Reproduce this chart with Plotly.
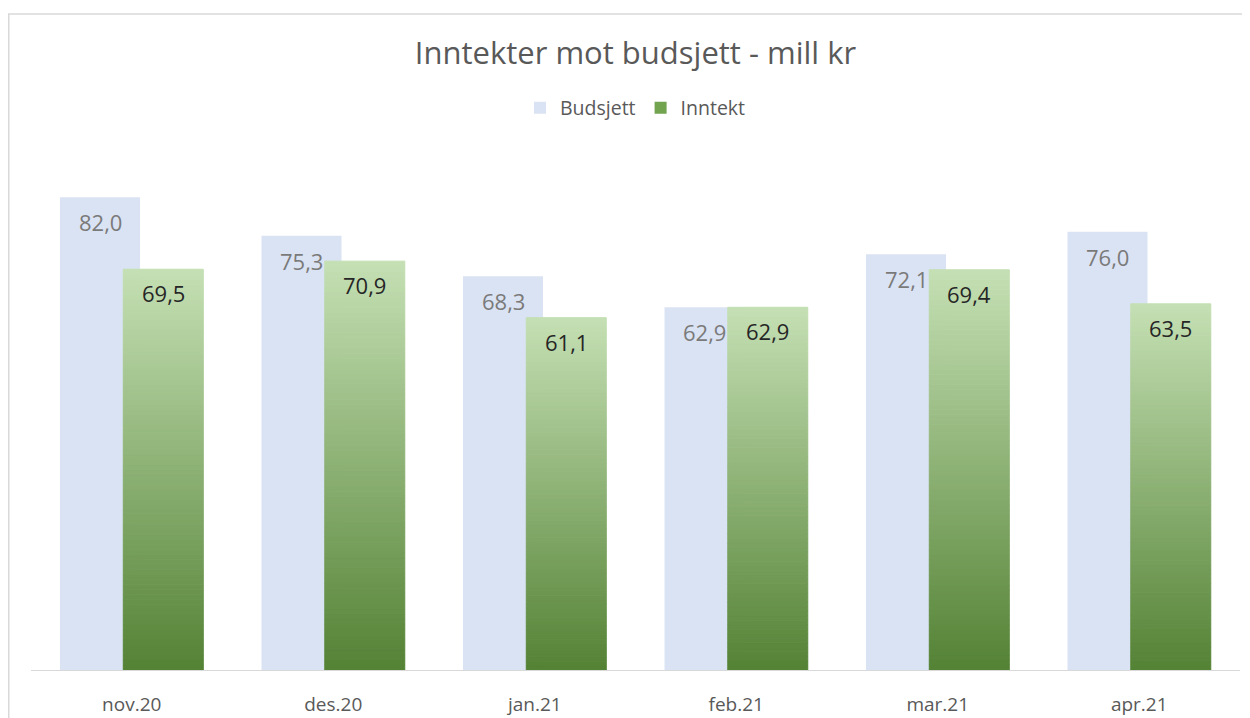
import plotly.graph_objects as go

# ---- data ----
categories = ["nov.20", "des.20", "jan.21", "feb.21", "mar.21", "apr.21"]
budsjett = [82.0, 75.3, 68.3, 62.9, 72.1, 76.0]
inntekt = [69.5, 70.9, 61.1, 62.9, 69.4, 63.5]

# ---- style ----
FONT = "Open Sans"
C_BUD = "#dae3f3"
C_TOP = (197, 224, 180)
C_BOT = (84, 130, 53)
BAR_W = 0.397
OFF_BUD = -0.356
OFF_INN = -0.042
N_SEG = 80


def fmt(v):
    return f"{v:.1f}".replace(".", ",")


def mix(t):
    r = [round(C_BOT[k] + (C_TOP[k] - C_BOT[k]) * t) for k in range(3)]
    return f"rgb({r[0]},{r[1]},{r[2]})"


fig = go.Figure()

fig.add_trace(go.Bar(
    x=categories, y=budsjett, name="Budsjett",
    marker=dict(color=C_BUD, line=dict(width=0)),
    width=BAR_W, offset=OFF_BUD, hoverinfo="skip",
))

# gradient-filled Inntekt bars built from stacked thin slices of each value
seg_x, seg_base, seg_y, seg_c = [], [], [], []
for cat, v in zip(categories, inntekt):
    h = v / N_SEG
    for k in range(N_SEG):
        seg_x.append(cat)
        seg_base.append(k * h)
        seg_y.append(h)
        seg_c.append(mix((k + 0.5) / N_SEG))

fig.add_trace(go.Bar(
    x=seg_x, y=seg_y, base=seg_base, name="Inntekt", showlegend=False,
    marker=dict(color=seg_c, line=dict(width=1, color=seg_c)),
    width=BAR_W, offset=OFF_INN, hoverinfo="skip",
))

# legend entry for Inntekt
fig.add_trace(go.Bar(
    x=[categories[0]], y=[None], name="Inntekt",
    marker=dict(color="#72a450", line=dict(width=0)),
    width=BAR_W, offset=OFF_INN,
))

annotations = []
for i, (b, n) in enumerate(zip(budsjett, inntekt)):
    annotations.append(dict(
        x=i + OFF_BUD + BAR_W / 2, y=b, xref="x", yref="y",
        text=fmt(b), showarrow=False, yanchor="middle", yshift=-25,
        font=dict(family=FONT, size=22, color="#7a7a7a"),
    ))
    annotations.append(dict(
        x=i + OFF_INN + BAR_W / 2, y=n, xref="x", yref="y",
        text=fmt(n), showarrow=False, yanchor="middle", yshift=-24,
        font=dict(family=FONT, size=22, color="#262626"),
    ))

# page body adds an 8px offset; margins compensate so the plot area lands where the reference has it
fig.update_layout(
    width=1250, height=718,
    margin=dict(l=23, r=18, t=143, b=56, pad=0, autoexpand=False),
    paper_bgcolor="white", plot_bgcolor="white",
    barmode="overlay",
    font=dict(family=FONT, color="#595959"),
    title=dict(
        text="Inntekter mot budsjett - mill kr",
        x=0.5, xref="paper", xanchor="center",
        y=1 - 45 / 718, yref="container", yanchor="middle",
        font=dict(family=FONT, size=31, color="#595959"),
    ),
    legend=dict(
        orientation="h", x=0.5, xanchor="center", xref="paper",
        y=(670 - 108) / 519, yanchor="middle",
        font=dict(family=FONT, size=19.5, color="#595959"),
        itemwidth=30, traceorder="normal", bgcolor="rgba(0,0,0,0)",
    ),
    xaxis=dict(
        type="category", categoryorder="array", categoryarray=categories,
        range=[-0.5, len(categories) - 0.5],
        showline=True, linecolor="#d9d9d9", linewidth=1,
        ticks="", showgrid=False, zeroline=False, automargin=False,
        tickfont=dict(family=FONT, size=19, color="#595959"),
        ticklabelstandoff=17,
    ),
    yaxis=dict(
        range=[0, 90], visible=False, showgrid=False, zeroline=False,
        automargin=False,
    ),
    annotations=annotations,
    shapes=[dict(
        type="rect", xref="paper", yref="paper",
        x0=(8.75 - 31) / 1209, x1=1.2, y0=-0.3, y1=(670 - 14) / 519,
        line=dict(color="#d9d9d9", width=1.5), fillcolor="rgba(0,0,0,0)",
        layer="below",
    )],
)

fig.write_html("out.html")
